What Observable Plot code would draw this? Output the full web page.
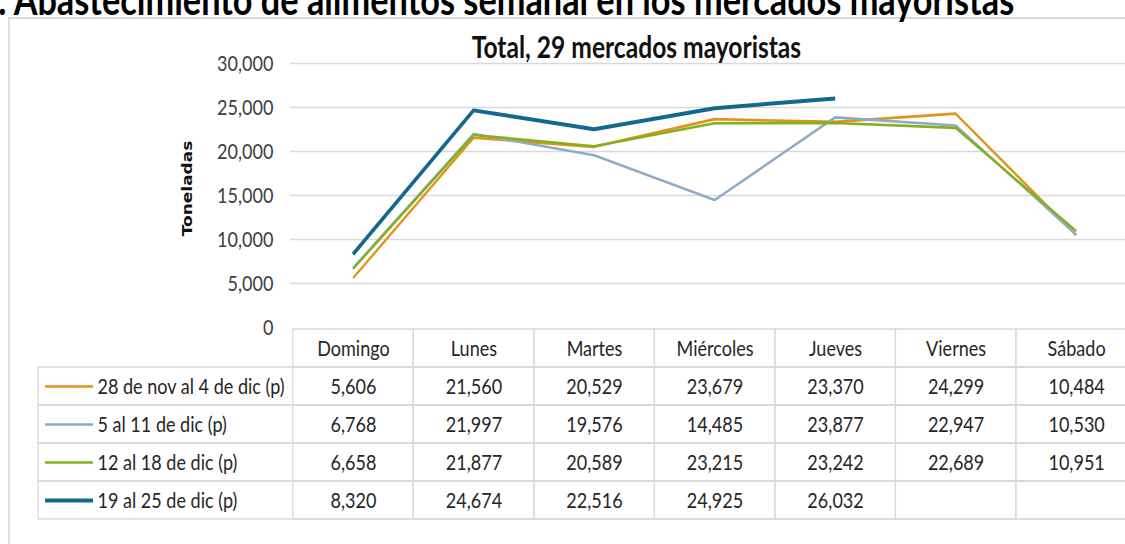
<!DOCTYPE html>
<html><head><meta charset="utf-8">
<script src="https://cdn.jsdelivr.net/npm/d3@7"></script>
<script src="https://cdn.jsdelivr.net/npm/@observablehq/plot@0.6"></script>
<style>
html,body{margin:0;padding:0;background:#fff;overflow:hidden}
#wrap{position:relative;width:1125px;height:544px;overflow:hidden;background:#fff}
#inner{position:absolute;left:0;top:0;width:1400px;height:544px;transform:scaleX(0.82);transform-origin:0 0}
#frame{position:absolute;left:10.4px;top:17px;width:1500px;height:620px;border:2px solid #d9d9d9;border-left-width:2.4px;box-sizing:border-box}
#chart,#table{position:absolute;left:0}
#chart{top:0}
#table{top:327px}
svg{overflow:visible}
</style></head>
<body>
<div id="wrap"><div id="inner">
  <div id="frame"></div>
  <div id="chart"></div>
  <div id="table"></div>
</div></div>
<script>
// ---- data ----
const days = ["Domingo","Lunes","Martes","Miércoles","Jueves","Viernes","Sábado"];
const seriesNames = ["28 de nov al 4 de dic (p)","5 al 11 de dic (p)","12 al 18 de dic (p)","19 al 25 de dic (p)"];
const s1 = [5606,21560,20529,23679,23370,24299,10484];
const s2 = [6768,21997,19576,14485,23877,22947,10530];
const s3 = [6658,21877,20589,23215,23242,22689,10951];
const s4 = [8320,24674,22516,24925,26032,null,null];
const yTicks = [0,5000,10000,15000,20000,25000,30000];
const mainTitle = "1. Abastecimiento de alimentos semanal en los mercados mayoristas";
const chartTitle = "Total, 29 mercados mayoristas";
const yLabel = "Toneladas";

const seriesValues = [s1,s2,s3,s4];
const colors = ["#E3921A","#8FAAC6","#83B11E","#13688D"];
const widths = [2.6,2.6,2.6,4];

// the whole picture is drawn at 1/0.82 width, then squeezed horizontally (like the reference)
const S = 0.82;
const X = v => v / S;            // target pixel -> drawing pixel
const FONT = 'Lato, "Open Sans", sans-serif';
const fmt = d3.format(",");
const W = X(1139), ML = X(290);

const records = [];
seriesNames.forEach((s,i)=>days.forEach((d,j)=>{
  records.push({series:s, day:d, value:seriesValues[i][j]});
}));

// ---- chart ----
const lineMarks = seriesNames.map((s,i)=>Plot.line(records.filter(r=>r.series===s && r.value!=null),
  {x:"day", y:"value", stroke:colors[i], strokeWidth:widths[i], strokeLinejoin:"round", strokeLinecap:"butt"}));

const chart = Plot.plot({
  width:W, height:327,
  marginLeft:ML, marginRight:0, marginTop:63, marginBottom:0,
  style:{fontFamily:FONT, fontSize:"22px", background:"transparent", overflow:"visible"},
  x:{type:"point", domain:days, padding:0.5, axis:null},
  y:{domain:[0,30000], axis:null},
  marks:[
    Plot.gridY(yTicks.filter(v=>v>0), {stroke:"#d9d9d9", strokeOpacity:1, strokeWidth:1.5}),
    Plot.axisY(yTicks, {tickSize:0, tickPadding:X(17), tickFormat:fmt, fill:"#404040", label:null, fontSize:22}),
    ...lineMarks,
    Plot.text([mainTitle], {frameAnchor:"top-left", textAnchor:"start", lineAnchor:"bottom", dx:X(-22)-ML, dy:15-63, fontSize:41.8, fontWeight:"bold", fill:"#000"}),
    Plot.text([chartTitle], {frameAnchor:"top", lineAnchor:"bottom", dx:X(636)-(ML+W)/2, dy:-5, fontSize:30, fontWeight:"bold", fill:"#111"}),
    Plot.text([yLabel], {frameAnchor:"left", textAnchor:"middle", rotate:-90, dx:X(187)-ML, dy:-7, fontFamily:"DejaVu Sans", fontWeight:"bold", fontSize:17, fill:"#111"})
  ]
});
document.getElementById("chart").appendChild(chart);

// ---- table ----
const rows = ["", ...seriesNames];
const cellGrid = [];
rows.forEach(r=>days.forEach(d=>cellGrid.push({row:r, day:d})));
const TL = X(38);

const swatches = seriesNames.map((s,i)=>Plot.ruleY([s], {y:d=>d, stroke:colors[i], strokeWidth:widths[i], insetLeft:X(45)-TL, insetRight:W-X(93)}));

const table = Plot.plot({
  width:W, height:217,
  marginLeft:TL, marginRight:0, marginTop:0, marginBottom:23,
  style:{fontFamily:FONT, fontSize:"22px", background:"transparent", overflow:"visible"},
  x:{type:"band", domain:days, range:[ML,W], padding:0, axis:null},
  y:{type:"band", domain:rows, padding:0, axis:null},
  marks:[
    Plot.cell(seriesNames, {y:d=>d, fill:"none", stroke:"#d9d9d9", strokeWidth:1.5}),
    Plot.cell(cellGrid, {x:"day", y:"row", fill:"none", stroke:"#d9d9d9", strokeWidth:1.5}),
    Plot.text(days, {x:d=>d, y:()=>"", text:d=>d, fill:"#262626"}),
    Plot.text(records.filter(r=>r.value!=null), {x:"day", y:"series", text:d=>fmt(d.value), fill:"#262626"}),
    ...swatches,
    Plot.text(seriesNames, {y:d=>d, frameAnchor:"left", dx:X(97)-TL, textAnchor:"start", text:d=>d, fill:"#262626"})
  ]
});
document.getElementById("table").appendChild(table);
</script>
</body></html>
